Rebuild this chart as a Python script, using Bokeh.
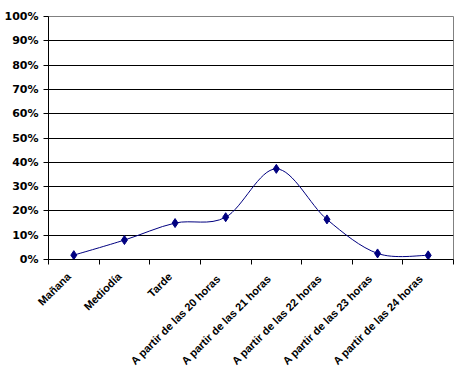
from bokeh.plotting import figure
from bokeh.models import Range1d, FixedTicker, NumeralTickFormatter
from bokeh.embed import file_html
from bokeh.resources import INLINE

categories = ["Mañana", "Mediodía", "Tarde", "A partir de las  20 horas",
              "A partir de las  21 horas", "A partir de las  22 horas",
              "A partir de las  23 horas", "A partir de las  24 horas"]
values = [0.018, 0.080, 0.150, 0.174, 0.373, 0.165, 0.025, 0.017]
y_ticks = [0.0, 0.1, 0.2, 0.3, 0.4, 0.5, 0.6, 0.7, 0.8, 0.9, 1.0]

n = len(categories)
xs = [i + 0.5 for i in range(n)]

p = figure(width=457, height=376, output_backend="svg", toolbar_location=None,
           x_range=Range1d(0, n), y_range=Range1d(0, 1),
           min_border_left=48, min_border_right=4, min_border_top=16,
           min_border_bottom=117)
p.background_fill_color = "white"
p.border_fill_color = "white"
p.outline_line_color = "#808080"
p.outline_line_width = 1

# Smoothed line (Catmull-Rom style Bezier, like Excel's smoothed line)
x0s, y0s, x1s, y1s, cx0s, cy0s, cx1s, cy1s = [], [], [], [], [], [], [], []
for i in range(n - 1):
    xa, ya = xs[i], values[i]
    xb, yb = xs[i + 1], values[i + 1]
    xp, yp = (xs[i - 1], values[i - 1]) if i > 0 else (xa, ya)
    xn, yn = (xs[i + 2], values[i + 2]) if i + 2 < n else (xb, yb)
    x0s.append(xa); y0s.append(ya); x1s.append(xb); y1s.append(yb)
    cx0s.append(xa + (xb - xp) / 6); cy0s.append(ya + (yb - yp) / 6)
    cx1s.append(xb - (xn - xa) / 6); cy1s.append(yb - (yn - ya) / 6)
p.bezier(x0=x0s, y0=y0s, x1=x1s, y1=y1s, cx0=cx0s, cy0=cy0s, cx1=cx1s, cy1=cy1s,
         line_color="#000080", line_width=1)
p.scatter(xs, values, marker="diamond", size=9, fill_color="#000080",
          line_color="#000080")

# X axis: labels near category centers, ticks at category boundaries
label_pos = [x - 0.1 for x in xs]
xax = p.xaxis[0]
xax.ticker = FixedTicker(ticks=label_pos, minor_ticks=list(range(n + 1)))
xax.major_label_overrides = {x: c for x, c in zip(label_pos, categories)}
xax.major_label_orientation = 0.785398
xax.major_tick_line_color = None
xax.minor_tick_in = 0
xax.minor_tick_out = 5
xax.minor_tick_line_color = "black"
xax.axis_line_color = "black"
xax.major_label_text_font = "Liberation Sans"
xax.major_label_text_font_style = "bold"
xax.major_label_text_font_size = "11px"
xax.major_label_text_color = "black"
xax.major_label_standoff = 9

yax = p.yaxis[0]
yax.ticker = FixedTicker(ticks=y_ticks)
yax.formatter = NumeralTickFormatter(format="0%")
yax.major_tick_in = 0
yax.major_tick_out = 5
yax.minor_tick_line_color = None
yax.axis_line_color = "black"
yax.major_tick_line_color = "black"
yax.major_label_text_font = "DejaVu Sans"
yax.major_label_text_font_style = "bold"
yax.major_label_text_font_size = "11px"
yax.major_label_text_color = "black"
yax.major_label_standoff = 5

p.xgrid.visible = False
p.ygrid.ticker = FixedTicker(ticks=y_ticks[1:-1])
p.ygrid.grid_line_color = "black"
p.ygrid.grid_line_width = 1

open("out.html", "w").write(file_html(p, INLINE))
